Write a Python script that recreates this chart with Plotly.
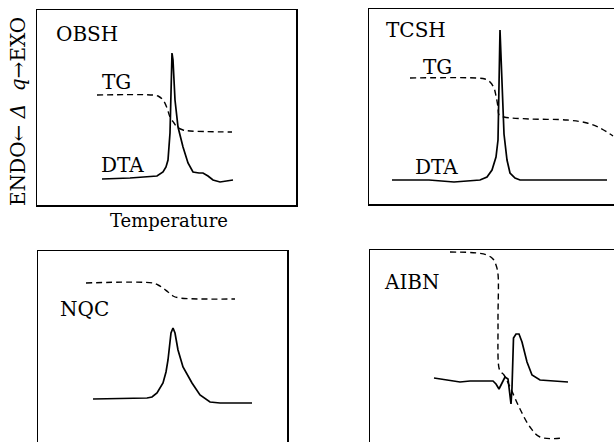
import plotly.graph_objects as go

W, H = 614, 442

# ---- data (arbitrary temperature units vs arbitrary signal units) ----
# OBSH
obsh_tg_t = [60, 116, 121, 126, 130, 133, 137, 140, 146, 153, 195]
obsh_tg_v = [110, 110, 109, 105, 97, 88, 82, 78, 75, 74, 73]
obsh_dta_t = [65, 93, 120, 126, 129, 131, 133, 134, 135, 136, 138, 141, 146, 151, 156, 162, 166, 171, 176, 183, 196]
obsh_dta_v = [26, 27, 29, 33, 38, 45, 72, 115, 152, 145, 105, 78, 58, 42, 33, 32, 32, 29, 25, 23, 25]

# TCSH
tcsh_tg_t = [41, 108, 116, 121, 125, 127, 129, 130, 135, 161, 198, 218, 231, 244]
tcsh_tg_v = [126, 126, 125, 122, 116, 108, 97, 89, 87, 85, 84, 81, 76, 68]
tcsh_dta_t = [23, 60, 85, 111, 118, 123, 127, 129, 131, 133, 135, 138, 141, 146, 151, 238]
tcsh_dta_v = [24, 24, 22, 24, 27, 34, 47, 64, 174, 120, 70, 44, 31, 26, 24, 24]

# NQC
nqc_tg_t = [48, 115, 120, 125, 130, 135, 142, 197]
nqc_tg_v = [159, 159, 157, 154, 150, 146, 144, 143]
nqc_dta_t = [55, 109, 114, 119, 125, 128, 130, 133, 135, 137, 140, 145, 154, 162, 172, 182, 214]
nqc_dta_v = [43, 44, 45, 49, 59, 70, 82, 109, 114, 109, 92, 75, 59, 47, 40, 39, 39]

# AIBN
aibn_tg_t = [80, 107, 117, 123, 126, 128, 128, 129, 131, 134, 140, 150, 160, 170, 194]
aibn_tg_v = [190, 189, 187, 183, 177, 168, 120, 74, 70, 67, 55, 33, 15, 5, 4]
aibn_dta_t = [64, 80, 90, 100, 123, 126, 129, 135, 138, 141, 142, 143.5, 146, 149, 152, 157, 162, 170, 198]
aibn_dta_v = [64, 62, 60, 61, 61, 58, 53, 65, 63, 38, 54, 104, 108, 108, 100, 80, 67, 62, 60]

panels = [
    # name, tg_t, tg_v, dta_t, dta_v, frame px (left, top, right, bottom)
    ("OBSH", obsh_tg_t, obsh_tg_v, obsh_dta_t, obsh_dta_v, (37, 10, 296, 205)),
    ("TCSH", tcsh_tg_t, tcsh_tg_v, tcsh_dta_t, tcsh_dta_v, (369, 9, 614, 204)),
    ("NQC", nqc_tg_t, nqc_tg_v, nqc_dta_t, nqc_dta_v, (38, 251, 287, 442)),
    ("AIBN", aibn_tg_t, aibn_tg_v, aibn_dta_t, aibn_dta_v, (370, 250, 614, 442)),
]

FONT = "DejaVu Serif"
fig = go.Figure()

def px(x):
    return x / W

def py(y):
    return 1 - y / H

for i, (name, tgt, tgv, dt, dv, fr) in enumerate(panels):
    n = "" if i == 0 else str(i + 1)
    l, t, r, b = fr
    fig.add_trace(go.Scatter(x=tgt, y=tgv, mode="lines", xaxis="x" + n, yaxis="y" + n,
                             line=dict(color="black", width=1.4, dash="6px,4px"),
                             line_shape="spline", showlegend=False, hoverinfo="skip"))
    fig.add_trace(go.Scatter(x=dt, y=dv, mode="lines", xaxis="x" + n, yaxis="y" + n,
                             line=dict(color="black", width=1.7),
                             showlegend=False, hoverinfo="skip"))
    xa = dict(domain=[px(l), px(r)], range=[0, r - l], showgrid=False, zeroline=False,
              showticklabels=False, ticks="", showline=True, linecolor="black", linewidth=1.5,
              anchor="y" + n, fixedrange=True)
    ya = dict(domain=[py(b), py(t)], range=[0, b - t], showgrid=False, zeroline=False,
              showticklabels=False, ticks="", showline=True, linecolor="black", linewidth=1.5,
              anchor="x" + n, fixedrange=True)
    if i == 0:
        xa["mirror"] = True
        ya["mirror"] = True
    elif i == 1:
        xa["mirror"] = True
        ya["mirror"] = False
    elif i == 2:
        xa["side"] = "top"
        xa["mirror"] = False
        ya["mirror"] = True
    else:
        xa["side"] = "top"
        xa["mirror"] = False
        ya["mirror"] = False
    fig.layout["xaxis" + n] = xa
    fig.layout["yaxis" + n] = ya

labels = [
    ("OBSH", 87, 34), ("TG", 116, 82), ("DTA", 122, 165),
    ("TCSH", 416, 30), ("TG", 437, 67), ("DTA", 436, 167),
    ("NQC", 84, 309),
    ("AIBN", 412, 282),
    ("Temperature", 169, 220),
]
annotations = []
for txt, x, y in labels:
    annotations.append(dict(text=txt, x=px(x), y=py(y), xref="paper", yref="paper",
                            showarrow=False, xanchor="center", yanchor="middle",
                            font=dict(family=FONT, size=20 if txt != "Temperature" else 18, color="black")))
annotations.append(dict(text="ENDO← <i>Δ  q</i>→EXO", x=px(18), y=py(112), xref="paper", yref="paper",
                        showarrow=False, textangle=-90, xanchor="center", yanchor="middle",
                        font=dict(family=FONT, size=20, color="black")))

fig.update_layout(width=W, height=H, margin=dict(l=0, r=0, t=0, b=0),
                  paper_bgcolor="white", plot_bgcolor="white", annotations=annotations)

fig.write_html("out.html", config={"displayModeBar": False, "staticPlot": True},
               post_script="document.body.style.margin='0';document.body.style.overflow='hidden';")
